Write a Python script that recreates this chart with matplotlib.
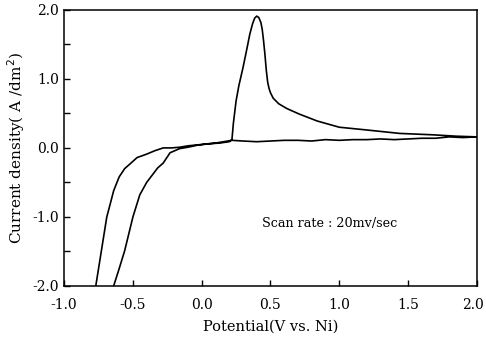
import matplotlib
matplotlib.use('Agg')
import matplotlib.pyplot as plt
from matplotlib.ticker import MultipleLocator

plt.rcParams['font.family'] = 'DejaVu Serif'
plt.rcParams['axes.unicode_minus'] = False

# cathodic start -> rise to small plateau
cat_x = [-0.64, -0.60, -0.56, -0.50, -0.45, -0.40, -0.32, -0.28, -0.23, -0.16, -0.10, -0.03, 0.05, 0.13, 0.20]
cat_y = [-2.0, -1.75, -1.49, -1.0, -0.68, -0.50, -0.29, -0.22, -0.07, -0.01, 0.01, 0.04, 0.06, 0.07, 0.09]

# anodic peak and decay out to 2.0 V
peak_x = [0.22, 0.23, 0.25, 0.27, 0.30, 0.33, 0.35, 0.37, 0.385, 0.40, 0.415, 0.43, 0.44, 0.45, 0.46,
          0.47, 0.48, 0.49, 0.50, 0.52, 0.56, 0.62, 0.71, 0.84, 1.0, 1.2, 1.44, 1.68, 1.85, 2.0]
peak_y = [0.12, 0.35, 0.68, 0.90, 1.16, 1.45, 1.65, 1.80, 1.88, 1.91, 1.89, 1.82, 1.72, 1.55, 1.35,
          1.12, 0.95, 0.86, 0.80, 0.72, 0.64, 0.57, 0.49, 0.39, 0.30, 0.26, 0.21, 0.19, 0.17, 0.16]

# reverse scan back along the baseline
rev_x = [2.0, 1.9, 1.8, 1.7, 1.6, 1.5, 1.4, 1.3, 1.2, 1.1, 1.0, 0.9, 0.8, 0.7, 0.6, 0.5, 0.4, 0.3,
         0.22, 0.1, 0.0, -0.1, -0.16]
rev_y = [0.16, 0.15, 0.16, 0.14, 0.14, 0.13, 0.12, 0.13, 0.12, 0.12, 0.11, 0.12, 0.10, 0.11, 0.11,
         0.10, 0.09, 0.10, 0.11, 0.07, 0.05, 0.03, 0.01]

# outer branch down into hydrogen evolution
out_x = [-0.22, -0.28, -0.34, -0.40, -0.47, -0.52, -0.56, -0.60, -0.64, -0.67, -0.69, -0.73, -0.77]
out_y = [0.0, 0.0, -0.04, -0.09, -0.14, -0.23, -0.30, -0.42, -0.62, -0.85, -1.0, -1.5, -2.0]

x_ticks = [-1.0, -0.5, 0.0, 0.5, 1.0, 1.5, 2.0]
x_labels = ['-1.0', '-0.5', '0.0', '0.5', '1.0', '1.5', '2.0']

xs = cat_x + peak_x + rev_x + out_x
ys = cat_y + peak_y + rev_y + out_y

fig = plt.figure(figsize=(4.86, 3.42), dpi=100)
ax = fig.add_axes([0.132, 0.164, 0.849, 0.807])
ax.plot(xs, ys, color='black', lw=1.2)

ax.set_xlim(-1.0, 2.0)
ax.set_ylim(-2.0, 2.0)
# last label drawn separately, nudged left so it stays on the canvas
ax.set_xticks(x_ticks, x_labels[:-1] + [''])
ax.annotate(x_labels[-1], xy=(x_ticks[-1], 0), xycoords=('data', 'axes fraction'),
            xytext=(-3, -9), textcoords='offset points', ha='center', va='top', fontsize=10)
ax.yaxis.set_major_locator(MultipleLocator(1.0))
ax.yaxis.set_minor_locator(MultipleLocator(0.5))
ax.yaxis.set_major_formatter(plt.FormatStrFormatter('%.1f'))
ax.tick_params(direction='in', length=4, width=1, labelsize=10)
ax.tick_params(axis='x', pad=9)
ax.tick_params(which='minor', direction='in', length=4, width=1)
for s in ax.spines.values():
    s.set_linewidth(1.1)

ax.set_xlabel('Potential(V vs. Ni)', fontsize=10.5, labelpad=5)
ax.set_ylabel('Current density( A /dm$^2$)', fontsize=11, labelpad=4)
ax.text(0.44, -1.09, 'Scan rate : 20mv/sec', fontsize=9.2, va='center')

plt.savefig('out.png', dpi=100)
